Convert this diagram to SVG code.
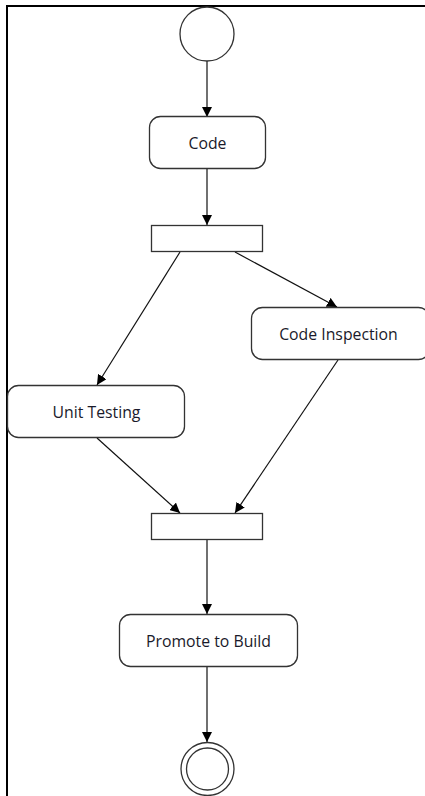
<svg xmlns="http://www.w3.org/2000/svg" width="425" height="796" viewBox="0 0 425 796">
  <style>
    .frame { stroke: #000; stroke-width: 2; fill: none; }
    .node { fill: #fff; stroke: #333; stroke-width: 1.3; }
    .label { font-family: "Open Sans", "Noto Sans", sans-serif; font-size: 15.8px; fill: #1a1a2a; text-anchor: middle; dominant-baseline: central; }
    .edge { stroke: #111; stroke-width: 1.2; fill: none; marker-end: url(#arrow); }
  </style>
  <defs>
    <marker id="arrow" viewBox="0 0 10 10" refX="10" refY="5" markerWidth="10" markerHeight="10" markerUnits="userSpaceOnUse" orient="auto">
      <path d="M0,0 L10,5 L0,10 Z" fill="#000"/>
    </marker>
  </defs>

  <rect width="425" height="796" fill="#fff"/>

  <!-- outer frame: left and top borders -->
  <path class="frame" d="M7,796 L7,6 L425,6"/>

  <g id="connectors">
    <line class="edge" x1="207" y1="61" x2="207" y2="117"/>
    <line class="edge" x1="207" y1="169" x2="207" y2="225"/>
    <line class="edge" x1="180" y1="252" x2="97" y2="385"/>
    <line class="edge" x1="235" y1="252" x2="337" y2="307"/>
    <line class="edge" x1="97" y1="438" x2="180" y2="513"/>
    <line class="edge" x1="338" y1="360" x2="235" y2="513"/>
    <line class="edge" x1="207" y1="540" x2="207" y2="614"/>
    <line class="edge" x1="207" y1="667" x2="207" y2="742"/>
  </g>

  <g id="start">
    <circle class="node" cx="207" cy="34" r="27"/>
  </g>

  <g id="code">
    <rect class="node" x="149.5" y="116.5" width="116" height="52" rx="11"/>
    <text class="label" x="207.5" y="142.5">Code</text>
  </g>

  <g id="fork">
    <rect class="node" x="151.5" y="225.5" width="111" height="26"/>
  </g>

  <g id="code-inspection">
    <rect class="node" x="251.5" y="307.5" width="178" height="52" rx="11"/>
    <text class="label" x="338.5" y="333.5">Code Inspection</text>
  </g>

  <g id="unit-testing">
    <rect class="node" x="7.5" y="385.5" width="177" height="52" rx="11"/>
    <text class="label" x="96.5" y="411.5">Unit Testing</text>
  </g>

  <g id="join">
    <rect class="node" x="151.5" y="513.5" width="111" height="26"/>
  </g>

  <g id="promote-to-build">
    <rect class="node" x="119.5" y="614.5" width="178" height="52" rx="11"/>
    <text class="label" x="208.5" y="640.5">Promote to Build</text>
  </g>

  <g id="end">
    <circle class="node" cx="207.5" cy="769" r="26.5"/>
    <circle class="node" cx="207.5" cy="769" r="21"/>
  </g>
</svg>
